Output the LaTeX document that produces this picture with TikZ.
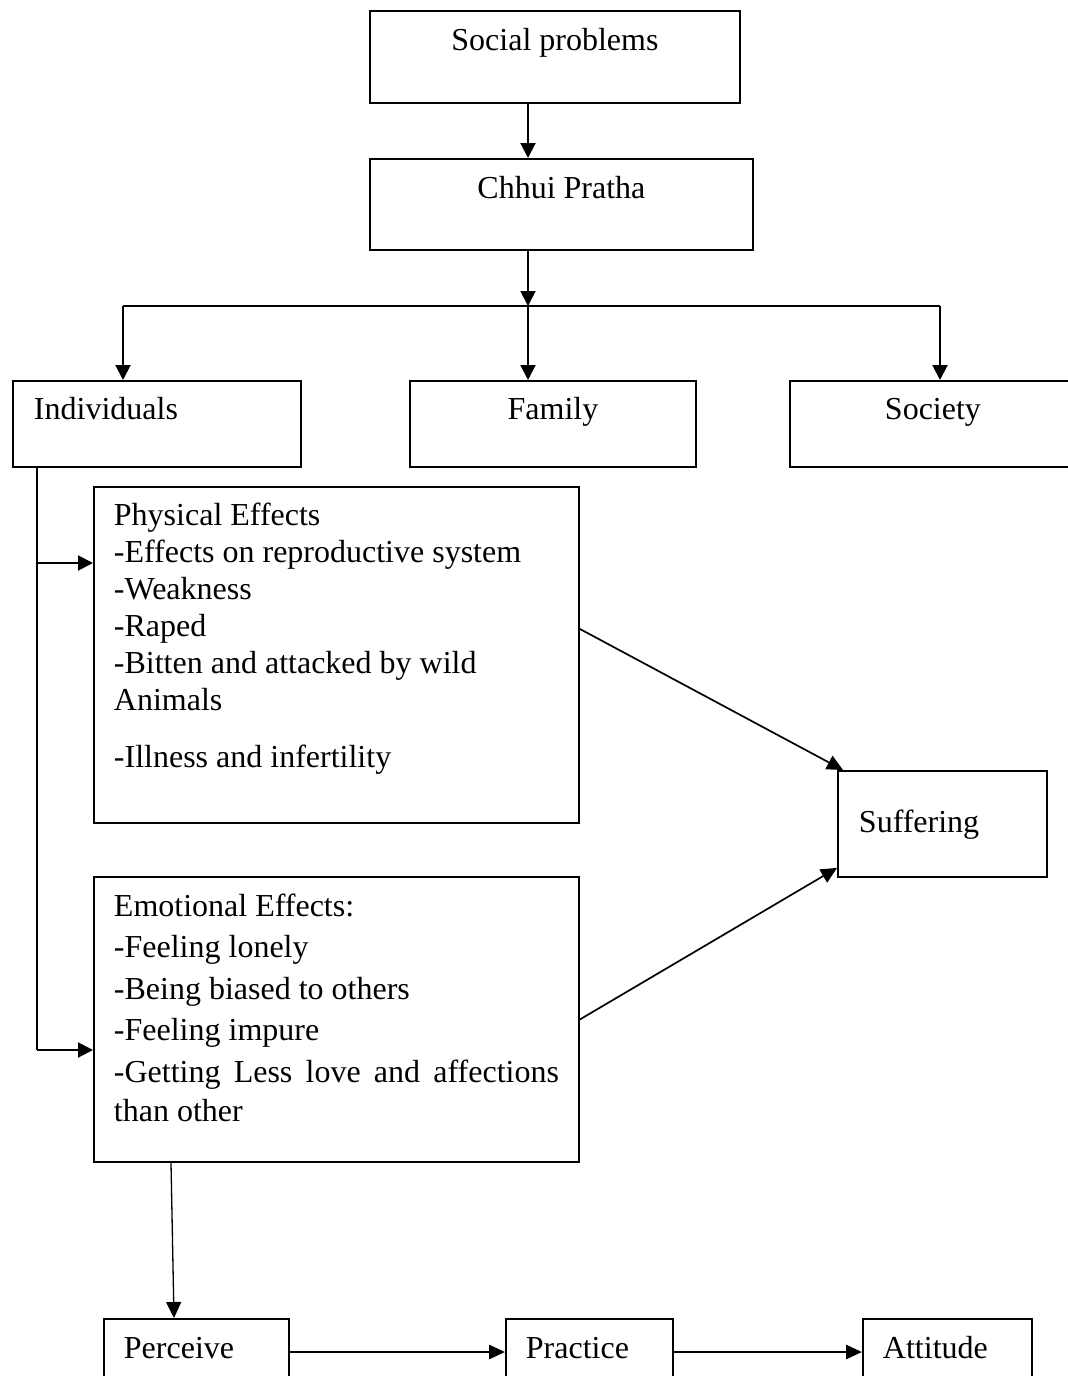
\documentclass[tikz,border=0pt]{standalone}
\usepackage{fontspec}
\setmainfont{Liberation Serif}
\usetikzlibrary{arrows.meta}

% box text: width, height, space above first line, text
\newcommand{\cell}[4]{\parbox[c][#2][t]{#1}{\vspace*{#3}\strut#4}}

\begin{document}
\begin{tikzpicture}[x=1pt, y=-1pt,
    blk/.style={draw, line width=1.9pt, inner xsep=20pt, inner ysep=0pt, anchor=north west, font=\fontsize{32}{37}\selectfont},
    arr/.style={line width=2pt, -{Triangle[length=15pt,width=15pt]}}]
  \path[use as bounding box, clip] (0,0) rectangle (1068,1376);
  \fill[white] (0,0) rectangle (1068,1376);

  % boxes
  \node[blk] (social) at (369,10) {\cell{330pt}{92pt}{14pt}{\centering Social problems}};
  \node[blk] (chhui) at (369,158) {\cell{343pt}{91pt}{14pt}{\centering Chhui Pratha}};
  \node[blk, inner xsep=21pt] (indiv) at (12,380) {\cell{246pt}{86pt}{13pt}{Individuals}};
  \node[blk] (family) at (409,380) {\cell{246pt}{86pt}{13pt}{\centering Family}};
  \node[blk] (society) at (789,380) {\cell{246pt}{86pt}{13pt}{\centering Society}};
  \node[blk] (phys) at (93,486) {\cell{445pt}{336pt}{13pt}{Physical Effects\\
    -Effects on reproductive system\\
    -Weakness\\
    -Raped\\
    -Bitten and attacked by wild\\
    Animals\\[20pt]
    -Illness and infertility}};
  \node[blk, font=\fontsize{32}{41.5}\selectfont] (emo) at (93,876) {\cell{445pt}{285pt}{10pt}{Emotional Effects:\\
    -Feeling lonely\\
    -Being biased to others\\
    -Feeling impure\\
    \makebox[\linewidth][s]{-Getting Less love and affections}\\[-2.5pt]
    than other}};
  \node[blk, inner xsep=21pt] (suff) at (837,770) {\cell{167pt}{106pt}{36pt}{Suffering}};
  \node[blk] (perc) at (103,1318) {\cell{145pt}{86pt}{14pt}{Perceive}};
  \node[blk] (prac) at (505,1318) {\cell{127pt}{86pt}{14pt}{Practice}};
  \node[blk] (att) at (862,1318) {\cell{129pt}{86pt}{14pt}{Attitude}};

  % top part
  \coordinate (split) at (528,306);
  \coordinate (jl) at (123,306);
  \coordinate (jr) at (940,306);
  \draw[arr] (social.south -| split) -- (chhui.north -| split);
  \draw[arr] (chhui.south -| split) -- (split);
  \draw[line width=2pt] (jl) -- (jr);
  \draw[arr] (jl) -- (jl |- indiv.north);
  \draw[arr] (split) -- (split |- family.north);
  \draw[arr] (jr) -- (jr |- society.north);

  % individuals to effects
  \coordinate (b1) at (37,563);
  \coordinate (b2) at (37,1050);
  \draw[line width=2pt] (indiv.south -| b1) -- (b2);
  \draw[arr] (b1) -- (b1 -| phys.west);
  \draw[arr] (b2) -- (b2 -| emo.west);

  % effects to suffering
  \draw[arr, line width=1.7pt, -{Triangle[length=16pt,width=15pt]}] ([yshift=26pt]phys.east) -- ([xshift=6pt]suff.north west);
  \draw[arr, line width=1.7pt, -{Triangle[length=16pt,width=15pt]}] (emo.east) -- ([yshift=10pt]suff.south west);

  % bottom row
  \draw[line width=1.3pt, -{Triangle[length=16pt,width=15pt]}] (emo.south -| 171,0) -- (perc.north -| 174,0);
  \coordinate (row) at (0,1352);
  \draw[line width=2.8pt, -{Triangle[length=16pt,width=14pt]}] (perc.east |- row) -- (prac.west |- row);
  \draw[line width=2.8pt, -{Triangle[length=16pt,width=14pt]}] (prac.east |- row) -- (att.west |- row);
\end{tikzpicture}
\end{document}
